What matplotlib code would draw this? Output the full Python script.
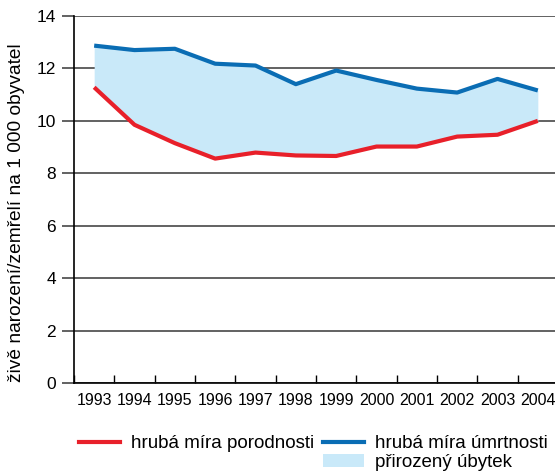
import numpy as np
import matplotlib
matplotlib.use("Agg")
import matplotlib.pyplot as plt
from matplotlib.lines import Line2D
from matplotlib.patches import Patch

years = ["1993", "1994", "1995", "1996", "1997", "1998", "1999",
         "2000", "2001", "2002", "2003", "2004"]
birth_rate = [11.28, 9.85, 9.15, 8.56, 8.79, 8.68, 8.66, 9.02, 9.02, 9.40, 9.47, 10.0]
death_rate = [12.87, 12.70, 12.75, 12.18, 12.11, 11.40, 11.92, 11.56, 11.23, 11.08, 11.60, 11.16]

plt.rcParams['font.family'] = ['Liberation Sans', 'DejaVu Sans']

RED = "#e8202a"
BLUE = "#0a6db4"
FILL = "#c9e9f9"
GRID = "#555555"

fig = plt.figure(figsize=(5.55, 4.71), dpi=100)
ax = fig.add_axes([74/555, 88/471, 484/555, 367/471])

x = np.arange(len(years))
ax.fill_between(x, birth_rate, death_rate, color=FILL, lw=0, zorder=1)
ax.plot(x, birth_rate, color=RED, lw=3, zorder=3, solid_capstyle='butt')
ax.plot(x, death_rate, color=BLUE, lw=3, zorder=3, solid_capstyle='butt')

ax.set_xlim(-0.5, len(years) - 0.5)
ax.set_ylim(0, 14)
ax.set_yticks(range(0, 15, 2))
ax.yaxis.grid(True, color=GRID, lw=1.3, zorder=0)
ax.set_axisbelow(True)
ax.tick_params(axis='y', length=9, width=1.3, color=GRID, pad=4, labelsize=12.5)

ax.set_xticks(x)
ax.set_xticklabels(years)
ax.set_xticks(np.arange(-0.5, len(years), 1), minor=True)
ax.tick_params(axis='x', which='major', length=0, pad=7, labelsize=10)
ax.tick_params(axis='x', which='minor', direction='in', length=6, width=1, color='black')
for lab in ax.get_xticklabels():
    lab.set_family(['Liberation Sans Narrow', 'Liberation Sans'])
    lab.set_fontsize(11.5)

for s in ['top', 'right']:
    ax.spines[s].set_visible(False)
ax.spines['left'].set_color('black')
ax.spines['bottom'].set_color('black')
ax.spines['left'].set_linewidth(1.2)
ax.spines['bottom'].set_linewidth(1.2)

ax.set_ylabel("živě narození/zemřelí na 1 000 obyvatel", fontsize=13.8)
ax.yaxis.set_label_coords(-0.101, 0.463)

handles = [Line2D([], [], color=RED, lw=3),
           Line2D([], [], color='none'),
           Line2D([], [], color=BLUE, lw=3),
           Patch(facecolor=FILL, edgecolor='none')]
labels = ["hrubá míra porodnosti", "", "hrubá míra úmrtnosti", "přirozený úbytek"]
fig.legend(handles, labels, ncol=2, frameon=False, fontsize=13.5,
           loc='upper left', bbox_to_anchor=(79/555, 1 - 435/471),
           borderpad=0, borderaxespad=0, handlelength=2.2, handletextpad=0.55,
           columnspacing=0.5, labelspacing=0.1)

fig.savefig("out.png", dpi=100)
